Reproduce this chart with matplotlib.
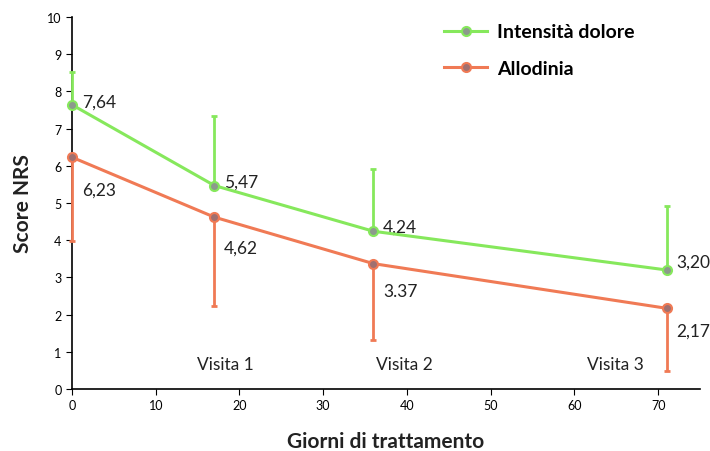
import matplotlib
matplotlib.use("Agg")
import matplotlib.pyplot as plt

plt.rcParams['font.family'] = ['Lato', 'DejaVu Sans']

giorni = [0, 17, 36, 71]
dolore = [7.64, 5.47, 4.24, 3.20]
dolore_sup = [8.52, 7.34, 5.91, 4.92]
allodinia = [6.23, 4.62, 3.37, 2.17]
allodinia_inf = [3.98, 2.23, 1.32, 0.48]
etichette_dolore = ["7,64", "5,47", "4,24", "3,20"]
etichette_allodinia = ["6,23", "4,62", "3.37", "2,17"]
visite = ["Visita 1", "Visita 2", "Visita 3"]
pos_visite = [18.3, 39.7, 64.9]

verde = "#86e85c"
arancio = "#f07a55"

fig = plt.figure(figsize=(7.10, 4.52), dpi=100)
ax = fig.add_axes([72/710, 1 - 390/452, 628/710, 372/452])

# error bars (one-sided)
err_d = [[0]*4, [s - v for s, v in zip(dolore_sup, dolore)]]
err_a = [[v - i for v, i in zip(allodinia, allodinia_inf)], [0]*4]
for eb in (ax.errorbar(giorni, dolore, yerr=err_d, fmt='none', ecolor=verde, elinewidth=2,
                       capsize=2, capthick=2, zorder=3),
           ax.errorbar(giorni, allodinia, yerr=err_a, fmt='none', ecolor=arancio, elinewidth=2,
                       capsize=2, capthick=2, zorder=3)):
    for art in eb.lines[1] + eb.lines[2]:
        art.set_clip_on(False)

ax.plot(giorni, dolore, color=verde, lw=2.2, marker='o', ms=6.5, mfc='#8c9a8c', mec=verde, mew=1.5,
        label="Intensità dolore", zorder=4, clip_on=False)
ax.plot(giorni, allodinia, color=arancio, lw=2.2, marker='o', ms=6.5, mfc='#a07070', mec=arancio, mew=1.5,
        label="Allodinia", zorder=4, clip_on=False)

off_d = [2, 3, 3, 6]
off_a = [-23, -22, -20, -16]
for x, y, t, o in zip(giorni, dolore, etichette_dolore, off_d):
    ax.annotate(t, (x, y), xytext=(7, o), textcoords='offset points', fontsize=12.5, color='#222222', va='center')
for x, y, t, o in zip(giorni, allodinia, etichette_allodinia, off_a):
    ax.annotate(t, (x, y), xytext=(7, o), textcoords='offset points', fontsize=12.5, color='#222222', va='center')

for xv, t in zip(pos_visite, visite):
    ax.text(xv, 0.68, t, fontsize=12.5, ha='center', va='center', color='#222222')

ax.set_xlim(0, 75)
ax.set_ylim(0, 10)
ax.set_xticks(range(0, 80, 10))
ax.set_yticks(range(0, 11))
ax.tick_params(labelsize=9, length=4, direction='out')
for s in ['top', 'right']:
    ax.spines[s].set_visible(False)
ax.spines['left'].set_linewidth(1.2)
ax.spines['bottom'].set_linewidth(1.2)

ax.set_xlabel("Giorni di trattamento", fontsize=15, fontweight='bold', labelpad=14, color='#222222')
ax.set_ylabel("Score NRS", fontsize=15, fontweight='bold', labelpad=10, color='#222222')

leg = ax.legend(loc='upper left', bbox_to_anchor=(0.565, 1.03), frameon=False, fontsize=14,
                handlelength=2.2, labelspacing=1.0, handletextpad=0.5)
for t in leg.get_texts():
    t.set_fontweight('bold')

fig.savefig("out.png", dpi=100)
